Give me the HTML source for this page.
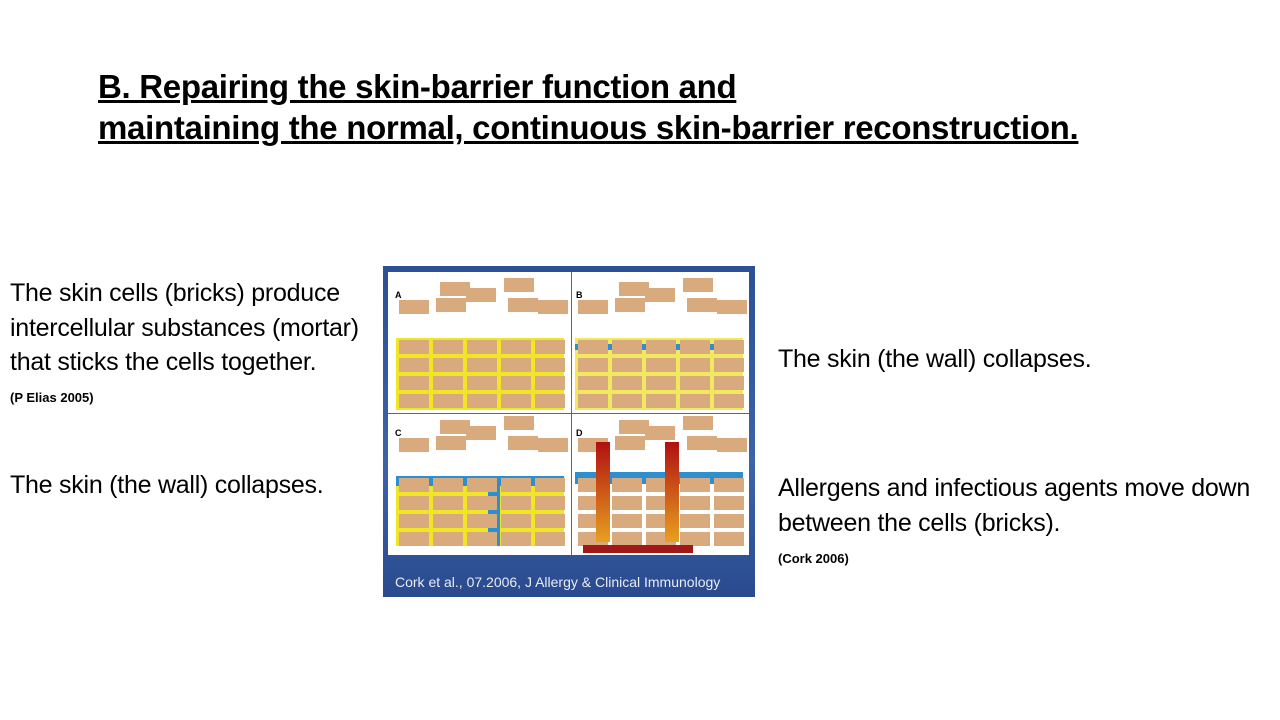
<!DOCTYPE html>
<html><head><style>
body{margin:0;width:1280px;height:720px;background:#fff;position:relative;overflow:hidden;font-family:"Liberation Sans",sans-serif;color:#000}
.t{position:absolute;white-space:nowrap}
.title{left:98px;top:66px;font-size:33px;font-weight:bold;line-height:41px;text-decoration:underline;letter-spacing:-0.3px}
.p{font-size:25px;letter-spacing:-0.25px}
.s{font-size:13px;font-weight:bold}
#img{position:absolute;left:383px;top:266px;width:372px;height:331px;background:linear-gradient(#2c4f96,#3c63aa 60%,#2a4a8e)}
#wh{position:absolute;left:5px;top:6px;width:361px;height:283px;background:#fff;overflow:hidden}
.b{position:absolute;background:#d9aa7e;width:30px;height:14px}
.m{position:absolute;background:#f1e528}
.w{position:absolute;background:#2d8fcf}
.lbl{position:absolute;font-size:9px;font-weight:bold}
</style></head><body>
<div class="t title">B. Repairing the skin-barrier function and<br>maintaining the normal, continuous skin-barrier reconstruction.</div>
<div class="t p" style="left:10px;top:276px;line-height:34.5px">The skin cells (bricks) produce<br>intercellular substances (mortar)<br>that sticks the cells together.</div>
<div class="t s" style="left:10px;top:390px">(P Elias 2005)</div>
<div class="t p" style="left:10px;top:471px">The skin (the wall) collapses.</div>
<div class="t p" style="left:778px;top:345px">The skin (the wall) collapses.</div>
<div class="t p" style="left:778px;top:471px;line-height:35px">Allergens and infectious agents move down<br>between the cells (bricks).</div>
<div class="t s" style="left:778px;top:551px">(Cork 2006)</div>
<div id="img"><div id="wh">
<div class="m" style="left:8px;top:66px;width:168px;height:72px"></div>
<div class="m" style="left:187px;top:66px;width:168px;height:72px;background:#f1e860"></div>
<div class="w" style="left:187px;top:72px;width:168px;height:6px"></div>
<div class="w" style="left:8px;top:204px;width:168px;height:70px;background:#f1e528"></div>
<div class="w" style="left:8px;top:204px;width:168px;height:10px"></div>
<div class="w" style="left:187px;top:200px;width:168px;height:12px"></div>
<div class="w" style="left:100px;top:204px;width:12px;height:70px"></div>
<div style="position:absolute;left:183px;top:0;width:1px;height:283px;background:#666"></div>
<div style="position:absolute;left:0;top:141px;width:361px;height:1px;background:#666"></div>
<div class="lbl" style="left:7px;top:18px">A</div><div class="lbl" style="left:188px;top:18px">B</div>
<div class="lbl" style="left:7px;top:156px">C</div><div class="lbl" style="left:188px;top:156px">D</div>
<div id="bricks"></div>
<div style="position:absolute;left:208px;top:170px;width:14px;height:100px;background:linear-gradient(#b01010,#e8a020)"></div>
<div style="position:absolute;left:277px;top:170px;width:14px;height:100px;background:linear-gradient(#b01010,#e8a020)"></div>
<div style="position:absolute;left:195px;top:273px;width:110px;height:8px;background:#a01818"></div>
</div>
<div class="t" style="left:12px;top:308px;font-size:14px;color:#e8ecf4">Cork et al., 07.2006, J Allergy &amp; Clinical Immunology</div>
</div>
<script>
var h='',c=document.getElementById('bricks');
function add(x,y){h+='<div class="b" style="left:'+x+'px;top:'+y+'px"></div>';}
[[8,0],[187,0],[8,138],[187,138]].forEach(function(o){
 for(var r=0;r<4;r++)for(var k=0;k<5;k++)add(o[0]+3+k*34,o[1]+68+r*18);
 var tops=[[3,48],[40,46],[70,36],[108,26],[112,46],[142,48],[44,30]];
 tops.forEach(function(t){add(o[0]+t[0],o[1]+t[1]-20);});
});
c.innerHTML=h;
</script>
</body></html>
